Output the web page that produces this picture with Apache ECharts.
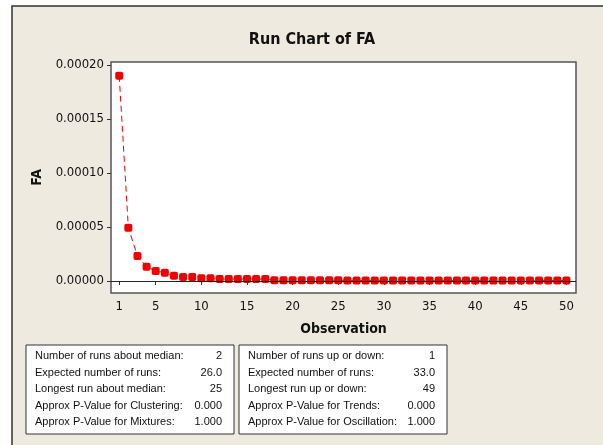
<!DOCTYPE html>
<html>
<head>
<meta charset="utf-8">
<title>Run Chart of FA</title>
<script src="https://cdn.jsdelivr.net/npm/echarts@6/dist/echarts.min.js"></script>
<style>
  html, body { margin: 0; padding: 0; background: #fff; }
  #chart { width: 603px; height: 445px; }
</style>
</head>
<body>
<div id="chart"></div>
<script>
// observations 1..50
const observations = Array.from({ length: 50 }, (_, i) => i + 1)

// FA values
const faValues = [
  0.000190, 0.0000494, 0.0000231, 0.0000133, 0.0000093,
  0.0000077, 0.0000049, 0.0000037, 0.0000037, 0.0000025,
  0.0000025, 0.0000018, 0.0000018, 0.0000018, 0.0000018,
  0.0000018, 0.0000018, 0.0000007, 0.0000007, 0.0000007,
  0.0000007, 0.0000007, 0.0000007, 0.0000007, 0.0000007,
  0.0000005, 0.0000005, 0.0000005, 0.0000005, 0.0000005,
  0.0000005, 0.0000005, 0.0000005, 0.0000005, 0.0000005,
  0.0000005, 0.0000005, 0.0000005, 0.0000005, 0.0000005,
  0.0000005, 0.0000005, 0.0000005, 0.0000005, 0.0000005,
  0.0000005, 0.0000005, 0.0000005, 0.0000005, 0.0000005
]
const median = 0.0000006

const xTicks = [1, 5, 10, 15, 20, 25, 30, 35, 40, 45, 50]
const yTicks = [0, 0.00005, 0.0001, 0.00015, 0.0002]

const leftLabels = [
  'Number of runs about median:',
  'Expected number of runs:',
  'Longest run about median:',
  'Approx P-Value for Clustering:',
  'Approx P-Value for Mixtures:'
]
const leftValues = ['2', '26.0', '25', '0.000', '1.000']
const rightLabels = [
  'Number of runs up or down:',
  'Expected number of runs:',
  'Longest run up or down:',
  'Approx P-Value for Trends:',
  'Approx P-Value for Oscillation:'
]
const rightValues = ['1', '33.0', '49', '0.000', '1.000']

const FONT = '"DejaVu Sans Condensed", "DejaVu Sans", sans-serif'
const TABLE_FONT = '11px "Liberation Sans", Arial, sans-serif'

function statBox(x, labels, values) {
  const top = 345, w = 208, h = 89, rowH = 16.5
  const children = [{
    type: 'rect',
    shape: { x: x, y: top, width: w, height: h },
    style: { fill: '#fff', stroke: '#333', lineWidth: 1 }
  }]
  labels.forEach((t, i) => {
    children.push({
      type: 'text',
      x: x + 9, y: top + 11 + i * rowH,
      style: { text: t, font: TABLE_FONT, fill: '#111', textVerticalAlign: 'middle' }
    })
    children.push({
      type: 'text',
      x: x + w - 12, y: top + 11 + i * rowH,
      style: { text: values[i], font: TABLE_FONT, fill: '#111', textAlign: 'right', textVerticalAlign: 'middle' }
    })
  })
  return { type: 'group', children: children }
}

const chart = echarts.init(document.getElementById('chart'))

const option = {
  backgroundColor: '#fff',
  animation: false,
  title: {
    text: 'Run Chart of FA',
    left: 307,
    top: 27,
    textAlign: 'center',
    textStyle: { fontFamily: FONT, fontSize: 16, fontWeight: 'bold', color: '#111' }
  },
  grid: {
    left: 111, top: 62, right: 27, bottom: 152,
    show: true,
    backgroundColor: '#fff',
    borderColor: '#555',
    borderWidth: 1.5
  },
  xAxis: {
    type: 'value',
    min: 0.1,
    max: 51.05,
    name: 'Observation',
    nameLocation: 'middle',
    nameGap: 29,
    nameTextStyle: { fontFamily: FONT, fontSize: 14, fontWeight: 'bold', color: '#111' },
    axisLine: { show: false },
    axisTick: { show: true, customValues: xTicks, length: 4, lineStyle: { color: '#333' } },
    axisLabel: { customValues: xTicks, fontFamily: FONT, fontSize: 13, color: '#111', margin: 7 },
    splitLine: { show: false }
  },
  yAxis: {
    type: 'value',
    min: -0.0000111,
    max: 0.0002028,
    name: 'FA',
    nameLocation: 'middle',
    nameGap: 67,
    nameTextStyle: { fontFamily: FONT, fontSize: 14, fontWeight: 'bold', color: '#111' },
    axisLine: { show: false },
    axisTick: { show: true, customValues: yTicks, length: 4, lineStyle: { color: '#333' } },
    axisLabel: {
      customValues: yTicks,
      fontFamily: FONT, fontSize: 13, color: '#111', margin: 7,
      formatter: v => v.toFixed(5)
    },
    splitLine: { show: false }
  },
  graphic: [
    {
      type: 'rect',
      z: -100,
      shape: { x: 12, y: 6, width: 700, height: 600 },
      style: { fill: '#EEEAE0', stroke: '#333', lineWidth: 1.5 }
    },
    statBox(26, leftLabels, leftValues),
    statBox(239, rightLabels, rightValues)
  ],
  series: [{
    type: 'line',
    data: observations.map((o, i) => [o, faValues[i]]),
    symbol: 'roundRect',
    symbolSize: 8,
    itemStyle: { color: '#F00000' },
    lineStyle: { color: '#F00000', width: 1, type: [6, 4] },
    markLine: {
      silent: true,
      symbol: 'none',
      label: { show: false },
      lineStyle: { color: '#222', width: 1, type: 'solid' },
      data: [{ yAxis: median }]
    }
  }]
}

chart.setOption(option)
</script>
</body>
</html>
